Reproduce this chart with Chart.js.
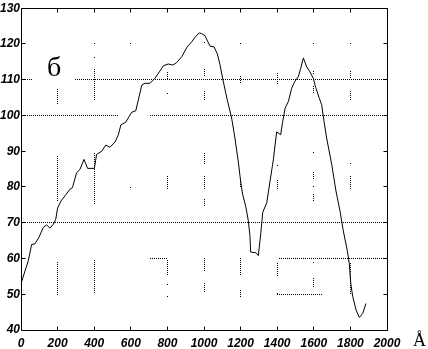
<!DOCTYPE html>
<html>
<head>
<meta charset="utf-8">
<script src="https://cdn.jsdelivr.net/npm/chart.js@4"></script>
<style>
  html, body { margin: 0; padding: 0; background: #fff; }
  #wrap { position: relative; width: 428px; height: 349px; }
</style>
</head>
<body>
<div id="wrap"><canvas id="chart" width="428" height="349"></canvas></div>
<script>
const wavelengths = [0, 40, 58, 76, 98, 122, 140, 158, 177, 190, 200, 219, 240, 268, 281, 304, 322, 344, 364, 401,
  413, 441, 463, 486, 514, 532, 546, 572, 586, 605, 627, 641, 660, 678, 705, 732, 756, 778, 805, 829,
  851, 878, 908, 933, 951, 974, 987, 1005, 1033, 1055, 1073, 1087, 1105, 1127, 1151, 1169, 1187, 1200, 1211, 1229,
  1242, 1251, 1255, 1284, 1297, 1310, 1321, 1343, 1361, 1379, 1397, 1419, 1430, 1443, 1461, 1479, 1497, 1515, 1528, 1543,
  1561, 1579, 1597, 1612, 1630, 1643, 1656, 1670, 1698, 1721, 1743, 1761, 1783, 1794, 1802, 1813, 1831, 1849, 1867, 1885];
const values = [53.0, 59.4, 63.9, 64.1, 65.9, 68.7, 69.4, 68.5, 69.6, 71.0, 74.1, 76.1, 77.5, 79.4, 79.8, 84.0, 84.9, 87.7, 85.2, 85.2,
  89.1, 90.0, 91.7, 91.1, 92.6, 94.6, 97.4, 98.1, 99.3, 100.9, 101.3, 104.3, 108.5, 109.0, 109.0, 110.4, 112.2, 113.9, 114.4, 114.1,
  114.8, 116.4, 119.2, 120.6, 121.9, 123.1, 122.9, 122.3, 119.4, 119.2, 117.2, 114.3, 109.6, 104.4, 99.3, 93.7, 87.2, 81.7, 78.0, 74.3,
  70.6, 66.4, 61.8, 61.6, 60.8, 66.9, 72.9, 75.6, 81.7, 87.6, 95.4, 94.6, 98.3, 102.0, 103.9, 107.6, 109.6, 110.8, 113.1, 116.1,
  113.6, 112.2, 110.4, 107.6, 104.8, 103.0, 98.3, 93.7, 86.3, 78.9, 73.3, 67.8, 62.2, 58.5, 53.0, 49.3, 45.6, 43.5, 44.6, 47.4];

const xTicks = [0, 200, 400, 600, 800, 1000, 1200, 1400, 1600, 1800, 2000];
const yTicks = [40, 50, 60, 70, 80, 90, 100, 110, 120, 130];

// broken dotted grid pieces seen on the scan: [y, x1, x2] and [x, y1, y2]
const hGrid = [[110, 0, 65], [110, 300, 2000], [100, 0, 540], [100, 705, 2000], [70, 0, 2000],
  [60, 705, 803], [60, 1413, 2000], [50, 1400, 1650]];
const vGrid = [
  [200, 107.2, 103.1], [200, 88.6, 75.6], [200, 59, 49.3],
  [400, 120.2, 119.8], [400, 116.2, 115.8], [400, 112.8, 103.9], [400, 89.5, 74.7], [400, 59.4, 50],
  [600, 120.2, 119.8], [600, 79.9, 79.5],
  [800, 112, 110], [800, 106.2, 105.8], [800, 83, 79], [800, 59.5, 55], [800, 52.7, 52.3], [800, 49.5, 49.1],
  [1000, 120.3, 119.9], [1000, 112.8, 110.8], [1000, 106.7, 103.9], [1000, 89.4, 86.4], [1000, 83, 79.4],
  [1000, 76.5, 74.5], [1000, 60, 56], [1000, 53, 50.3],
  [1200, 120.2, 119.8], [1200, 110.8, 108.9], [1200, 81.7, 79.7], [1200, 60, 55.3], [1200, 51, 49.2],
  [1400, 111.8, 108.8], [1400, 86, 85.6], [1400, 81.7, 78.9], [1400, 58.5, 54.7], [1400, 50.2, 49.8],
  [1600, 120.2, 119.8], [1600, 112.2, 111.1], [1600, 108, 105.8], [1600, 89.7, 89.3], [1600, 84, 81.7],
  [1600, 80, 79.6], [1600, 78, 76], [1600, 58.9, 58.5], [1600, 54.4, 51.7],
  [1800, 120.2, 119.8], [1800, 112.2, 110.3], [1800, 106.7, 103.9], [1800, 86.6, 86.2], [1800, 83, 79.4], [1800, 58.6, 49.7]
];

const px = v => Math.floor(v) + 0.5;

const framePlugin = {
  id: 'frame',
  beforeDatasetsDraw(chart) {
    const { ctx, chartArea: a, scales: { x, y } } = chart;
    ctx.save();
    ctx.strokeStyle = '#000';
    ctx.lineWidth = 1;
    ctx.setLineDash([1, 1]);
    ctx.beginPath();
    hGrid.forEach(([v, x1, x2]) => {
      const yy = px(y.getPixelForValue(v));
      ctx.moveTo(Math.floor(x.getPixelForValue(x1)), yy);
      ctx.lineTo(Math.floor(x.getPixelForValue(x2)), yy);
    });
    vGrid.forEach(([v, y1, y2]) => {
      const xx = px(x.getPixelForValue(v));
      ctx.moveTo(xx, Math.floor(y.getPixelForValue(y1)));
      ctx.lineTo(xx, Math.floor(y.getPixelForValue(y2)));
    });
    ctx.stroke();
    ctx.setLineDash([]);

    // frame and inward ticks on all four sides
    const L = px(a.left), R = px(a.right), T = px(a.top), B = px(a.bottom);
    ctx.beginPath();
    ctx.rect(L, T, R - L, B - T);
    xTicks.forEach(t => {
      const xx = px(x.getPixelForValue(t));
      ctx.moveTo(xx, B); ctx.lineTo(xx, B - 4);
      ctx.moveTo(xx, T); ctx.lineTo(xx, T + 4);
    });
    yTicks.forEach(t => {
      const yy = px(y.getPixelForValue(t));
      ctx.moveTo(L, yy); ctx.lineTo(L + 4, yy);
      ctx.moveTo(R, yy); ctx.lineTo(R - 4, yy);
    });
    ctx.stroke();

    // panel letter and unit
    ctx.fillStyle = '#000';
    ctx.textBaseline = 'alphabetic';
    ctx.font = '28px "Liberation Serif"';
    ctx.fillText('б', 47, 76);
    ctx.font = '18px "Liberation Serif"';
    ctx.fillText('Å', 413, 346);
    ctx.restore();
  }
};

const tickFont = { family: '"Liberation Sans", Arial, sans-serif', size: 12, style: 'italic', weight: 'bold' };

new Chart(document.getElementById('chart'), {
  type: 'line',
  data: {
    datasets: [{
      data: wavelengths.map((w, i) => ({ x: w, y: values[i] })),
      borderColor: '#000',
      borderWidth: 1,
      pointRadius: 0,
      tension: 0,
      fill: false
    }]
  },
  options: {
    responsive: false,
    animation: false,
    events: [],
    layout: { padding: { top: 6, right: 41, left: 0, bottom: 0 } },
    plugins: { legend: { display: false }, tooltip: { enabled: false } },
    scales: {
      x: {
        type: 'linear', min: 0, max: 2000,
        afterFit: s => { s.height = 19; },
        afterBuildTicks: s => { s.ticks = xTicks.map(v => ({ value: v })); },
        ticks: { color: '#000', font: tickFont, padding: 6, maxRotation: 0, autoSkip: false, callback: v => String(v) },
        grid: { display: false, drawTicks: false },
        border: { display: false }
      },
      y: {
        min: 40, max: 130,
        afterFit: s => { s.width = 21; },
        afterBuildTicks: s => { s.ticks = yTicks.map(v => ({ value: v })); },
        ticks: { color: '#000', font: tickFont, padding: 1, autoSkip: false, callback: v => String(v) },
        grid: { display: false, drawTicks: false },
        border: { display: false }
      }
    }
  },
  plugins: [framePlugin]
});
</script>
</body>
</html>
